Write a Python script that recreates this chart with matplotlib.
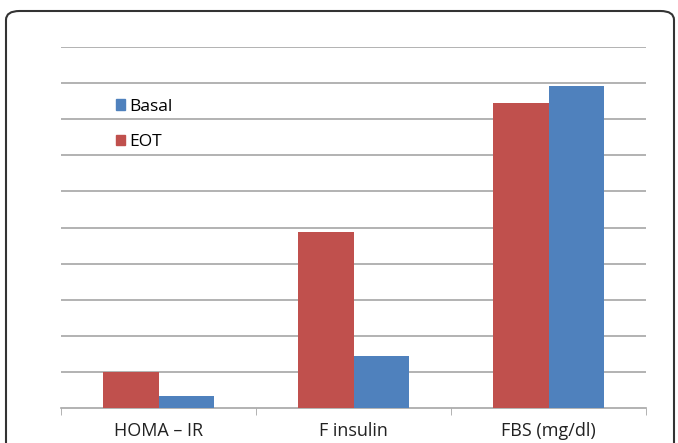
import matplotlib
matplotlib.use('Agg')
import matplotlib.pyplot as plt
import numpy as np
from matplotlib.patches import FancyBboxPatch, Patch

# data (arbitrary units, gridline = 1)
categories = ['HOMA – IR', 'F insulin', 'FBS (mg/dl)']
eot = [1.0, 4.88, 8.45]
basal = [0.33, 1.43, 8.92]

red = '#C0504D'
blue = '#4F81BD'

plt.rcParams['font.family'] = ['Open Sans', 'DejaVu Sans']

fig = plt.figure(figsize=(6.78, 4.43), dpi=100)
ax = fig.add_axes([61 / 678, 1 - 408 / 443, 585 / 678, 361 / 443])

x = np.arange(len(categories))
w = 1 / 3.5
ax.bar(x - w / 2, eot, w, color=red, zorder=3)
ax.bar(x + w / 2, basal, w, color=blue, zorder=3)

ax.set_xlim(-0.5, 2.5)
ax.set_ylim(0, 10)
ax.set_yticks(np.arange(1, 11))
ax.yaxis.grid(True, color='#a6a6a6', linewidth=1.2, zorder=0)
ax.tick_params(axis='y', length=0, labelleft=False)

ax.set_xticks(x)
ax.set_xticklabels(categories, fontsize=13, color='#222222')
ax.tick_params(axis='x', length=0, pad=10)
ax.set_xticks([-0.5, 0.5, 1.5, 2.5], minor=True)
ax.tick_params(axis='x', which='minor', length=5, color='#a6a6a6', direction='out')

for s in ['top', 'right', 'left']:
    ax.spines[s].set_visible(False)
ax.spines['bottom'].set_color('#a6a6a6')
ax.spines['bottom'].set_linewidth(1.2)

handles = [Patch(color=blue, label='Basal'), Patch(color=red, label='EOT')]
fig.legend(handles=handles, loc='upper left', bbox_to_anchor=(107 / 678, 1 - 90 / 443),
           frameon=False, fontsize=12.5, handlelength=0.55, handleheight=0.55,
           handletextpad=0.25, labelspacing=1.12, borderpad=0)

# rounded outer frame, bottom edge runs off the picture
frame = FancyBboxPatch((6 / 678, -50 / 443), 668 / 678, (443 - 11 + 50) / 443,
                       boxstyle='round,pad=0,rounding_size=0.02',
                       transform=fig.transFigure, fill=False,
                       edgecolor='#333333', linewidth=1.5, clip_on=False)
fig.patches.append(frame)

plt.savefig('out.png', dpi=100)
